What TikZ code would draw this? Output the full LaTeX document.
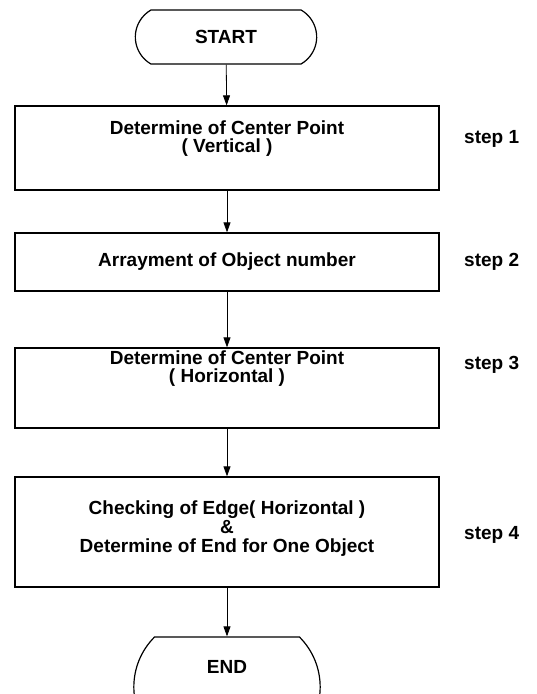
\documentclass[tikz,border=0pt]{standalone}
\usepackage{fontspec}
\setmainfont{Liberation Sans}
\usetikzlibrary{arrows.meta,shapes.misc}
\begin{document}
\begin{tikzpicture}[x=1pt,y=-1pt,
  font=\bfseries\fontsize{19}{18}\selectfont,
  procbox/.style={draw, line width=1.3pt, minimum width=424pt, inner sep=0pt},
  boxtext/.style={align=center, inner sep=0pt},
  term/.style={draw, line width=1.2pt, rounded rectangle,
    rounded rectangle arc length=120, minimum width=188pt, minimum height=54pt},
  flow/.style={-{Triangle[length=10pt,width=7pt]}, line width=0.8pt},
  steplabel/.style={anchor=west, inner sep=0pt}]
\fill[white] (0,0) rectangle (537,694);
\useasboundingbox (0,0) rectangle (537,694);

% terminals
\node[term] (start) at (226,37) {START};
\node[term, minimum width=193pt, minimum height=100pt,
  rounded rectangle arc length=90] (end) at (227,687) {};
\node[boxtext] (endtext) at (227,667) {END};

% process boxes
\node[procbox, minimum height=84pt] (s1) at (227,148) {};
\node[boxtext] (s1text) at (227,139) {Determine of Center Point\\( Vertical )};

\node[procbox, minimum height=58pt] (s2) at (227,262) {};
\node[boxtext] (s2text) at (227,262) {Arrayment of Object number};

\node[procbox, minimum height=80pt] (s3) at (227,388) {};
\node[boxtext] (s3text) at (227,369) {Determine of Center Point\\( Horizontal )};

\node[procbox, minimum height=110pt] (s4) at (227,532) {};
\node[boxtext, font=\bfseries\fontsize{19}{19}\selectfont] (s4text) at (227,529)
  {Checking of Edge( Horizontal )\\\&\\Determine of End for One Object};

% step labels
\node[steplabel] (l1) at (464,139) {step 1};
\node[steplabel] (l2) at (464,262) {step 2};
\node[steplabel] (l3) at (464,365) {step 3};
\node[steplabel] (l4) at (464,535) {step 4};

% connectors
\draw[flow] (start) -- (s1);
\draw[flow] (s1) -- (s2);
\draw[flow] (s2) -- (s3);
\draw[flow] (s3) -- (s4);
\draw[flow] (s4) -- (end);
\end{tikzpicture}
\end{document}
